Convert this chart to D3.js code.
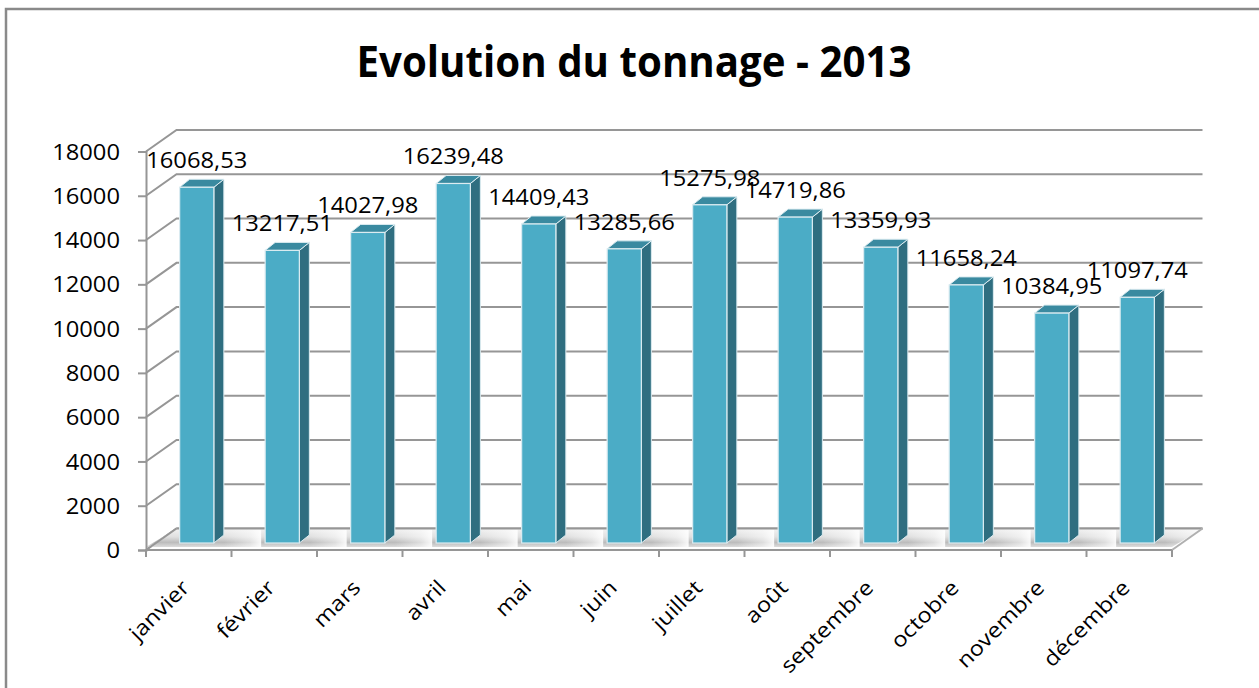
<!DOCTYPE html>
<html>
<head>
<meta charset="utf-8">
<script src="https://cdn.jsdelivr.net/npm/d3@7"></script>
<style>
  body { margin: 0; background: #fff; }
  svg { display: block; font-family: "Open Sans", sans-serif; }
</style>
</head>
<body>
<svg id="chart"></svg>
<script>
// data
const chartTitle = "Evolution du tonnage - 2013";
const months = ["janvier", "février", "mars", "avril", "mai", "juin", "juillet", "août", "septembre", "octobre", "novembre", "décembre"];
const tonnage = [16068.53, 13217.51, 14027.98, 16239.48, 14409.43, 13285.66, 15275.98, 14719.86, 13359.93, 11658.24, 10384.95, 11097.74];
const yTicks = [0, 2000, 4000, 6000, 8000, 10000, 12000, 14000, 16000, 18000];

const W = 1259, H = 688;
const SX = 1.13; // the reference text is drawn a bit wide

// 3d layout: front plane, back wall offset, bar plane offset and bar depth
const plot = {left: 146, right: 1172, bottom: 550, top: 151.5};
const wall = {dx: 30.5, dy: -21.5};
const barPlane = {dx: 8, dy: -7};
const barDepth = {dx: 10, dy: -8};

const frFmt = d3.formatLocale({decimal: ",", thousands: "", grouping: [3], currency: ["", ""]}).format(".2f");

const svg = d3.select("#chart").attr("width", W).attr("height", H);
const defs = svg.append("defs");

const x = d3.scaleBand().domain(months).range([plot.left, plot.right]).paddingInner(0.6).paddingOuter(0.3);
const y = d3.scaleLinear().domain([0, 18000]).range([plot.bottom, plot.top]);
const step = x.step();

// outer frame
svg.append("rect")
  .attr("x", 6).attr("y", 9).attr("width", W + 20).attr("height", H + 20)
  .attr("fill", "none").attr("stroke", "#8a8a8a").attr("stroke-width", 2.5);

// title
svg.append("text")
  .attr("x", 634).attr("y", 77)
  .attr("text-anchor", "middle")
  .attr("font-size", 43).attr("font-weight", "bold").attr("fill", "#000")
  .attr("textLength", 555).attr("lengthAdjust", "spacingAndGlyphs")
  .text(chartTitle);

const gridCol = "#969696";

// back wall gridlines + side wall diagonals
const grid = svg.append("g");
yTicks.forEach(t => {
  const fy = y(t);
  grid.append("polyline")
    .attr("points", [[plot.left, fy], [plot.left + wall.dx, fy + wall.dy], [plot.right + wall.dx, fy + wall.dy]].join(" "))
    .attr("fill", "none").attr("stroke", gridCol).attr("stroke-width", 2);
});

// floor
const floorGrad = defs.append("linearGradient").attr("id", "floorGrad")
  .attr("x1", 0).attr("y1", 0).attr("x2", 0).attr("y2", 1);
floorGrad.append("stop").attr("offset", "0%").attr("stop-color", "#f2f2f2");
floorGrad.append("stop").attr("offset", "45%").attr("stop-color", "#e0e0e0");
floorGrad.append("stop").attr("offset", "75%").attr("stop-color", "#bcbcbc");
floorGrad.append("stop").attr("offset", "100%").attr("stop-color", "#dcdcdc");

const shadeGrad = defs.append("linearGradient").attr("id", "shadeGrad")
  .attr("x1", 0).attr("y1", 0).attr("x2", 1).attr("y2", 0);
shadeGrad.append("stop").attr("offset", "0%").attr("stop-color", "#fff").attr("stop-opacity", 0);
shadeGrad.append("stop").attr("offset", "70%").attr("stop-color", "#fff").attr("stop-opacity", 0.5);
shadeGrad.append("stop").attr("offset", "100%").attr("stop-color", "#fff").attr("stop-opacity", 0.9);

const fb = plot.bottom - 3; // top surface front edge
svg.append("polygon")
  .attr("points", [[plot.left, fb], [plot.left + wall.dx, y(0) + wall.dy], [plot.right + wall.dx, y(0) + wall.dy], [plot.right, fb]].join(" "))
  .attr("fill", "url(#floorGrad)");

// lighter stretch of floor between bars
svg.append("g").selectAll("rect")
  .data(months)
  .join("rect")
  .attr("x", d => x(d) + barPlane.dx + x.bandwidth() + barDepth.dx)
  .attr("y", y(0) + wall.dy + 1)
  .attr("width", step - x.bandwidth() - barDepth.dx - 4)
  .attr("height", fb - (y(0) + wall.dy) - 1)
  .attr("fill", "url(#shadeGrad)");

// floor back edge and side edges
svg.append("line")
  .attr("x1", plot.left + wall.dx).attr("x2", plot.right + wall.dx)
  .attr("y1", y(0) + wall.dy).attr("y2", y(0) + wall.dy)
  .attr("stroke", gridCol).attr("stroke-width", 2);
svg.append("line")
  .attr("x1", plot.right).attr("y1", plot.bottom)
  .attr("x2", plot.right + wall.dx).attr("y2", plot.bottom + wall.dy)
  .attr("stroke", "#b0b0b0").attr("stroke-width", 2);
svg.append("line")
  .attr("x1", plot.left).attr("y1", plot.bottom)
  .attr("x2", plot.left + wall.dx).attr("y2", plot.bottom + wall.dy)
  .attr("stroke", gridCol).attr("stroke-width", 2);

// bars
const bars = svg.append("g").selectAll("g")
  .data(months.map((m, i) => ({month: m, value: tonnage[i]})))
  .join("g");

const bx = d => x(d.month) + barPlane.dx;
const by = d => y(d.value) + barPlane.dy;
const bb = y(0) + barPlane.dy;
const bw = x.bandwidth();
const edge = "#dcecf1";

// side face
bars.append("polygon")
  .attr("points", d => [[bx(d) + bw, by(d)], [bx(d) + bw + barDepth.dx, by(d) + barDepth.dy],
    [bx(d) + bw + barDepth.dx, bb + barDepth.dy], [bx(d) + bw, bb]].join(" "))
  .attr("fill", "#2f6e80").attr("stroke", edge).attr("stroke-width", 1).attr("stroke-linejoin", "round");

// top face
bars.append("polygon")
  .attr("points", d => [[bx(d), by(d)], [bx(d) + barDepth.dx, by(d) + barDepth.dy],
    [bx(d) + bw + barDepth.dx, by(d) + barDepth.dy], [bx(d) + bw, by(d)]].join(" "))
  .attr("fill", "#3a8aa0").attr("stroke", edge).attr("stroke-width", 1).attr("stroke-linejoin", "round");

// front face
bars.append("rect")
  .attr("x", d => bx(d)).attr("y", d => by(d))
  .attr("width", bw).attr("height", d => bb - by(d))
  .attr("fill", "#4bacc6").attr("stroke", edge).attr("stroke-width", 1.2);

// floor front edge + category ticks
svg.append("line")
  .attr("x1", plot.left).attr("x2", plot.right)
  .attr("y1", plot.bottom).attr("y2", plot.bottom)
  .attr("stroke", gridCol).attr("stroke-width", 2);

const bounds = d3.range(months.length + 1).map(i => plot.left + i * step);
svg.append("g").selectAll("line")
  .data(bounds)
  .join("line")
  .attr("x1", d => d).attr("x2", d => d)
  .attr("y1", plot.bottom).attr("y2", plot.bottom + 7)
  .attr("stroke", gridCol).attr("stroke-width", 2);

// y axis
const yAxis = svg.append("g")
  .attr("transform", `translate(${plot.left},0)`)
  .call(d3.axisLeft(y).tickValues(yTicks).tickSize(8).tickPadding(18).tickFormat(d3.format("d")));
yAxis.select(".domain").attr("stroke", gridCol).attr("stroke-width", 2);
yAxis.selectAll(".tick line").attr("stroke", gridCol).attr("stroke-width", 2);
yAxis.selectAll(".tick text")
  .attr("font-size", 21).attr("fill", "#000")
  .attr("font-family", "'Open Sans', sans-serif")
  .attr("dy", "0.36em");

// x labels
svg.append("g").selectAll("text")
  .data(months)
  .join("text")
  .attr("transform", d => `translate(${x(d) + bw / 2 + 2},${plot.bottom + 39}) rotate(-45)`)
  .attr("text-anchor", "end")
  .attr("font-size", 21).attr("fill", "#000")
  .text(d => d);

// data labels
bars.append("text")
  .attr("x", d => bx(d) + bw / 2)
  .attr("y", d => by(d) - 19)
  .attr("text-anchor", "middle")
  .attr("font-size", 21).attr("fill", "#000")
  .text(d => frFmt(d.value));

// widen texts to match the reference
svg.selectAll("text").filter(function() { return !this.hasAttribute("textLength"); })
  .each(function() {
    const len = this.getComputedTextLength();
    d3.select(this).attr("textLength", len * SX).attr("lengthAdjust", "spacingAndGlyphs");
  });
</script>
</body>
</html>
